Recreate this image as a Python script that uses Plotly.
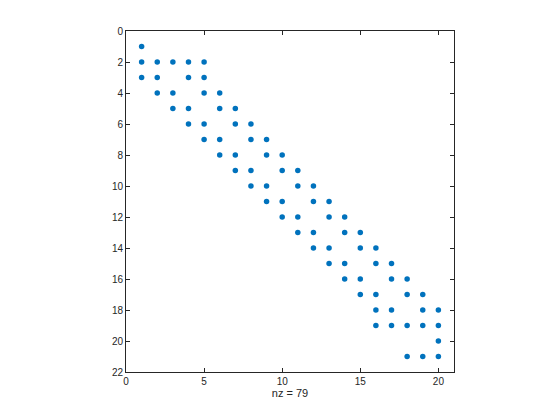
import plotly.graph_objects as go

# Nonzero entries of the sparse matrix (row, column)
nz_rows = [1,
           2, 2, 2, 2, 2,
           3, 3, 3, 3,
           4, 4, 4, 4,
           5, 5, 5, 5,
           6, 6, 6, 6,
           7, 7, 7, 7,
           8, 8, 8, 8,
           9, 9, 9, 9,
           10, 10, 10, 10,
           11, 11, 11, 11,
           12, 12, 12, 12,
           13, 13, 13, 13,
           14, 14, 14, 14,
           15, 15, 15, 15,
           16, 16, 16, 16,
           17, 17, 17, 17,
           18, 18, 18, 18,
           19, 19, 19, 19, 19,
           20,
           21, 21, 21]
nz_cols = [1,
           1, 2, 3, 4, 5,
           1, 2, 4, 5,
           2, 3, 5, 6,
           3, 4, 6, 7,
           4, 5, 7, 8,
           5, 6, 8, 9,
           6, 7, 9, 10,
           7, 8, 10, 11,
           8, 9, 11, 12,
           9, 10, 12, 13,
           10, 11, 13, 14,
           11, 12, 14, 15,
           12, 13, 15, 16,
           13, 14, 16, 17,
           14, 15, 17, 18,
           15, 16, 18, 19,
           16, 17, 19, 20,
           16, 17, 18, 19, 20,
           20,
           18, 19, 20]

x_ticks = [0, 5, 10, 15, 20]
y_ticks = [0, 2, 4, 6, 8, 10, 12, 14, 16, 18, 20, 22]
x_label = "nz = %d" % len(nz_rows)

fig = go.Figure()
fig.add_trace(go.Scatter(
    x=nz_cols, y=nz_rows, mode="markers",
    marker=dict(color="#0072BD", size=5.5, line=dict(width=0)),
    hoverinfo="x+y", showlegend=False,
))

axis_common = dict(
    showgrid=False, zeroline=False, showline=True, linecolor="#262626",
    linewidth=1, mirror="ticks", ticks="inside", ticklen=4, tickwidth=1,
    tickcolor="#262626", tickfont=dict(family="Liberation Sans, Arial", size=10, color="#262626"),
)

fig.update_layout(
    width=560, height=420,
    margin=dict(l=118, r=114, t=23, b=56, pad=0),
    paper_bgcolor="white", plot_bgcolor="white",
    font=dict(family="Liberation Sans, Arial", size=10, color="#262626"),
    xaxis=dict(range=[0, 21], tickvals=x_ticks, ticktext=[str(v) for v in x_ticks],
               title=dict(text=x_label, standoff=1, font=dict(size=11, color="#262626")),
               **axis_common),
    yaxis=dict(range=[22, 0], tickvals=y_ticks, ticktext=[str(v) for v in y_ticks],
               **axis_common),
)

fig.write_html("out.html")
